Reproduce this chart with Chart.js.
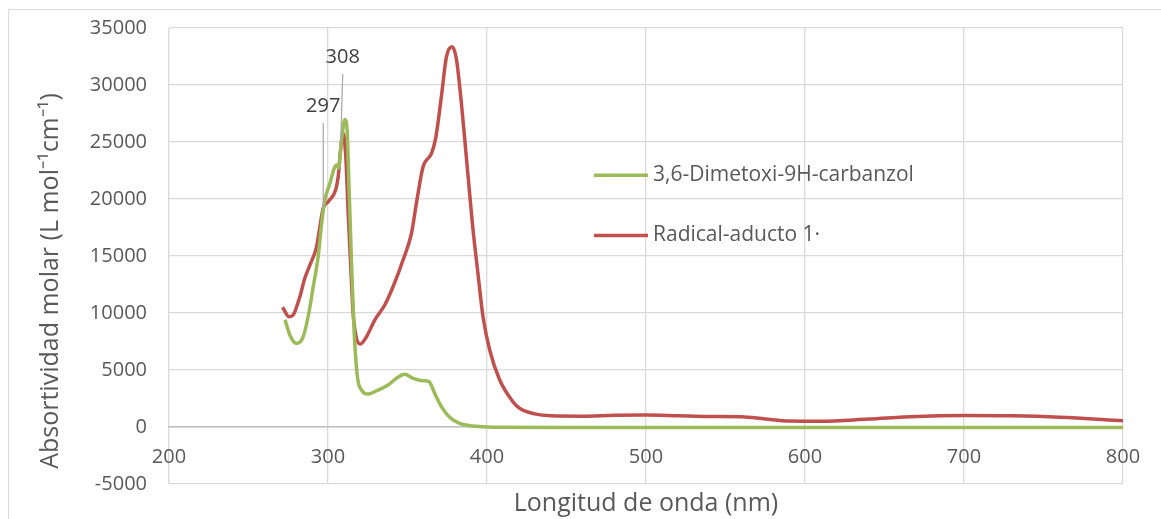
<!DOCTYPE html>
<html>
<head>
<meta charset="utf-8">
<script src="https://cdn.jsdelivr.net/npm/chart.js@4.4.1/dist/chart.umd.min.js"></script>
<style>
  html, body { margin: 0; padding: 0; background: #fff; }
  #wrap { position: relative; width: 1161px; height: 519px; }
  #frame { position: absolute; left: 8px; top: 9px; right: -2px; bottom: -2px; border-top: 1px solid #d9d9d9; border-left: 1px solid #d9d9d9; }
  canvas { position: absolute; left: 0; top: 0; }
</style>
</head>
<body>
<div id="wrap">
  <div id="frame"></div>
  <canvas id="chart" width="1161" height="519"></canvas>
</div>
<script>
// wavelengths (nm) and molar absorptivity
const carbazolNm = [273, 276, 280, 284, 287.5, 290.7, 293.8, 296, 298, 301.2, 304.3, 305.7, 306.6, 308.5, 310.6, 312, 313.3, 314.8, 316.4, 318.5, 321.1, 325.2, 330.5, 337.8, 343, 348.3, 353.5, 359.8, 363.6, 367.1, 371.3, 376.5, 382.8, 391.2, 403.7, 450, 500, 600, 700, 800];
const carbazolAbs = [9400, 8070, 7340, 7780, 9670, 12300, 14940, 17860, 19910, 21370, 22830, 22980, 22700, 25170, 26980, 26050, 20780, 14350, 8500, 4410, 3240, 2890, 3180, 3680, 4270, 4620, 4270, 4060, 3970, 2950, 1780, 850, 320, 90, -20, -50, -50, -50, -40, -40];

const aductoNm = [271.4, 275.6, 278.1, 282.3, 285.4, 288.6, 292.8, 294.9, 297, 300.1, 304.9, 306.4, 307.9, 309.5, 311.2, 312.7, 314.2, 315.8, 317.9, 320.4, 324.2, 329.4, 335.7, 340.9, 347.2, 352.5, 355.6, 359.8, 365.1, 367.7, 371.3, 374.5, 378, 380.7, 383.9, 387, 390.8, 394.3, 397.5, 401.7, 408, 416.3, 420.5, 430, 440, 460, 480, 500, 520, 540, 560, 575, 590, 610, 640, 670, 700, 730, 760, 800];
const aductoAbs = [10500, 9670, 9820, 11430, 13040, 14200, 15810, 17570, 19180, 19760, 20840, 21950, 24290, 25760, 23700, 18740, 14350, 9970, 7780, 7280, 7920, 9380, 10700, 12300, 14650, 16990, 19620, 22830, 24000, 25320, 28970, 32480, 33350, 32330, 28390, 23700, 17860, 13480, 9670, 6750, 4120, 2220, 1640, 1150, 980, 950, 1030, 1060, 990, 920, 900, 700, 520, 500, 700, 930, 1010, 980, 860, 550];

const seriesNames = ['3,6-Dimetoxi-9H-carbanzol', 'Radical-aducto 1·'];
const peakNm = [297, 308];
const peakAbs = [19180, 25000];
const peakText = ['297', '308'];

const xTicks = [200, 300, 400, 500, 600, 700, 800];
const yTicks = [-5000, 0, 5000, 10000, 15000, 20000, 25000, 30000, 35000];

const textColor = '#595959';
const fontFam = '"Open Sans", "Liberation Sans", sans-serif';
const colors = ['#9bbb59', '#c0504d'];

function toPoints(xs, ys) {
  return xs.map((x, i) => ({ x: x, y: ys[i] }));
}

// legend drawn inside the plot, right of centre
const innerLegend = {
  id: 'innerLegend',
  afterDatasetsDraw(chart) {
    const ctx = chart.ctx;
    const a = chart.chartArea;
    const x0 = a.left + 0.4455 * (a.right - a.left);
    const ys = [a.top + 0.323 * (a.bottom - a.top), a.top + 0.455 * (a.bottom - a.top)];
    ctx.save();
    ctx.font = '21px ' + fontFam;
    ctx.textBaseline = 'middle';
    seriesNames.forEach((name, i) => {
      ctx.strokeStyle = colors[i];
      ctx.lineWidth = 3.5;
      ctx.beginPath();
      ctx.moveTo(x0, ys[i]);
      ctx.lineTo(x0 + 54, ys[i]);
      ctx.stroke();
      ctx.fillStyle = textColor;
      ctx.fillText(name, x0 + 59, ys[i]);
    });
    ctx.restore();
  }
};

// peak labels with leader lines
const peakLabels = {
  id: 'peakLabels',
  afterDatasetsDraw(chart) {
    const ctx = chart.ctx;
    const xs = chart.scales.x, ys = chart.scales.y;
    const lens = [85, 68];
    ctx.save();
    ctx.font = '20px ' + fontFam;
    ctx.textAlign = 'center';
    ctx.textBaseline = 'middle';
    peakNm.forEach((nm, i) => {
      const px = xs.getPixelForValue(nm);
      const py = ys.getPixelForValue(peakAbs[i]);
      ctx.strokeStyle = '#a6a6a6';
      ctx.lineWidth = 1.2;
      ctx.beginPath();
      ctx.moveTo(px, py);
      ctx.lineTo(px + (i === 1 ? 2 : 0), py - lens[i]);
      ctx.stroke();
      ctx.fillStyle = '#404040';
      ctx.fillText(peakText[i], px + (i === 1 ? 2 : 0), py - lens[i] - 17);
    });
    ctx.restore();
  }
};

new Chart(document.getElementById('chart').getContext('2d'), {
  type: 'line',
  data: {
    datasets: [
      {
        label: seriesNames[0],
        data: toPoints(carbazolNm, carbazolAbs),
        borderColor: colors[0],
        backgroundColor: colors[0],
        borderWidth: 3.5,
        pointRadius: 0,
        cubicInterpolationMode: 'monotone'
      },
      {
        label: seriesNames[1],
        data: toPoints(aductoNm, aductoAbs),
        borderColor: colors[1],
        backgroundColor: colors[1],
        borderWidth: 3.5,
        pointRadius: 0,
        cubicInterpolationMode: 'monotone'
      }
    ]
  },
  options: {
    responsive: false,
    animation: false,
    layout: { padding: { left: 0, top: 28, right: 38, bottom: 0 } },
    plugins: {
      legend: { display: false },
      tooltip: { enabled: false },
      title: {
        display: true,
        position: 'bottom',
        fullSize: false,
        text: 'Longitud de onda (nm)',
        color: textColor,
        font: { family: fontFam, size: 25, weight: 'normal' },
        padding: { top: 5, bottom: 0 }
      }
    },
    scales: {
      x: {
        type: 'linear',
        position: { y: 0 },
        min: 200,
        max: 800,
        afterBuildTicks: s => { s.ticks = xTicks.map(v => ({ value: v })); },
        afterFit: s => { s.paddingTop = 0; s.paddingBottom = 0; },
        ticks: { color: textColor, font: { family: fontFam, size: 20 }, padding: 18, maxRotation: 0, callback: v => String(v) },
        grid: { color: '#d9d9d9', lineWidth: 1.3, drawTicks: false },
        border: { color: '#bfbfbf', width: 1.5 }
      },
      y: {
        min: -5000,
        max: 35000,
        afterBuildTicks: s => { s.ticks = yTicks.map(v => ({ value: v })); },
        afterFit: s => { s.width = 169; s.paddingTop = 0; s.paddingBottom = 0; },
        ticks: { color: textColor, font: { family: fontFam, size: 20 }, padding: 22, callback: v => String(v) },
        grid: { color: '#d9d9d9', lineWidth: 1.3, drawTicks: false },
        border: { display: false },
        title: {
          display: true,
          text: 'Absortividad molar (L mol⁻¹cm⁻¹)\u2002\u2002\u2002\u2002',
          color: textColor,
          font: { family: fontFam, size: 25 },
          padding: { top: 36, bottom: 0 }
        }
      }
    }
  },
  plugins: [innerLegend, peakLabels]
});
</script>
</body>
</html>
